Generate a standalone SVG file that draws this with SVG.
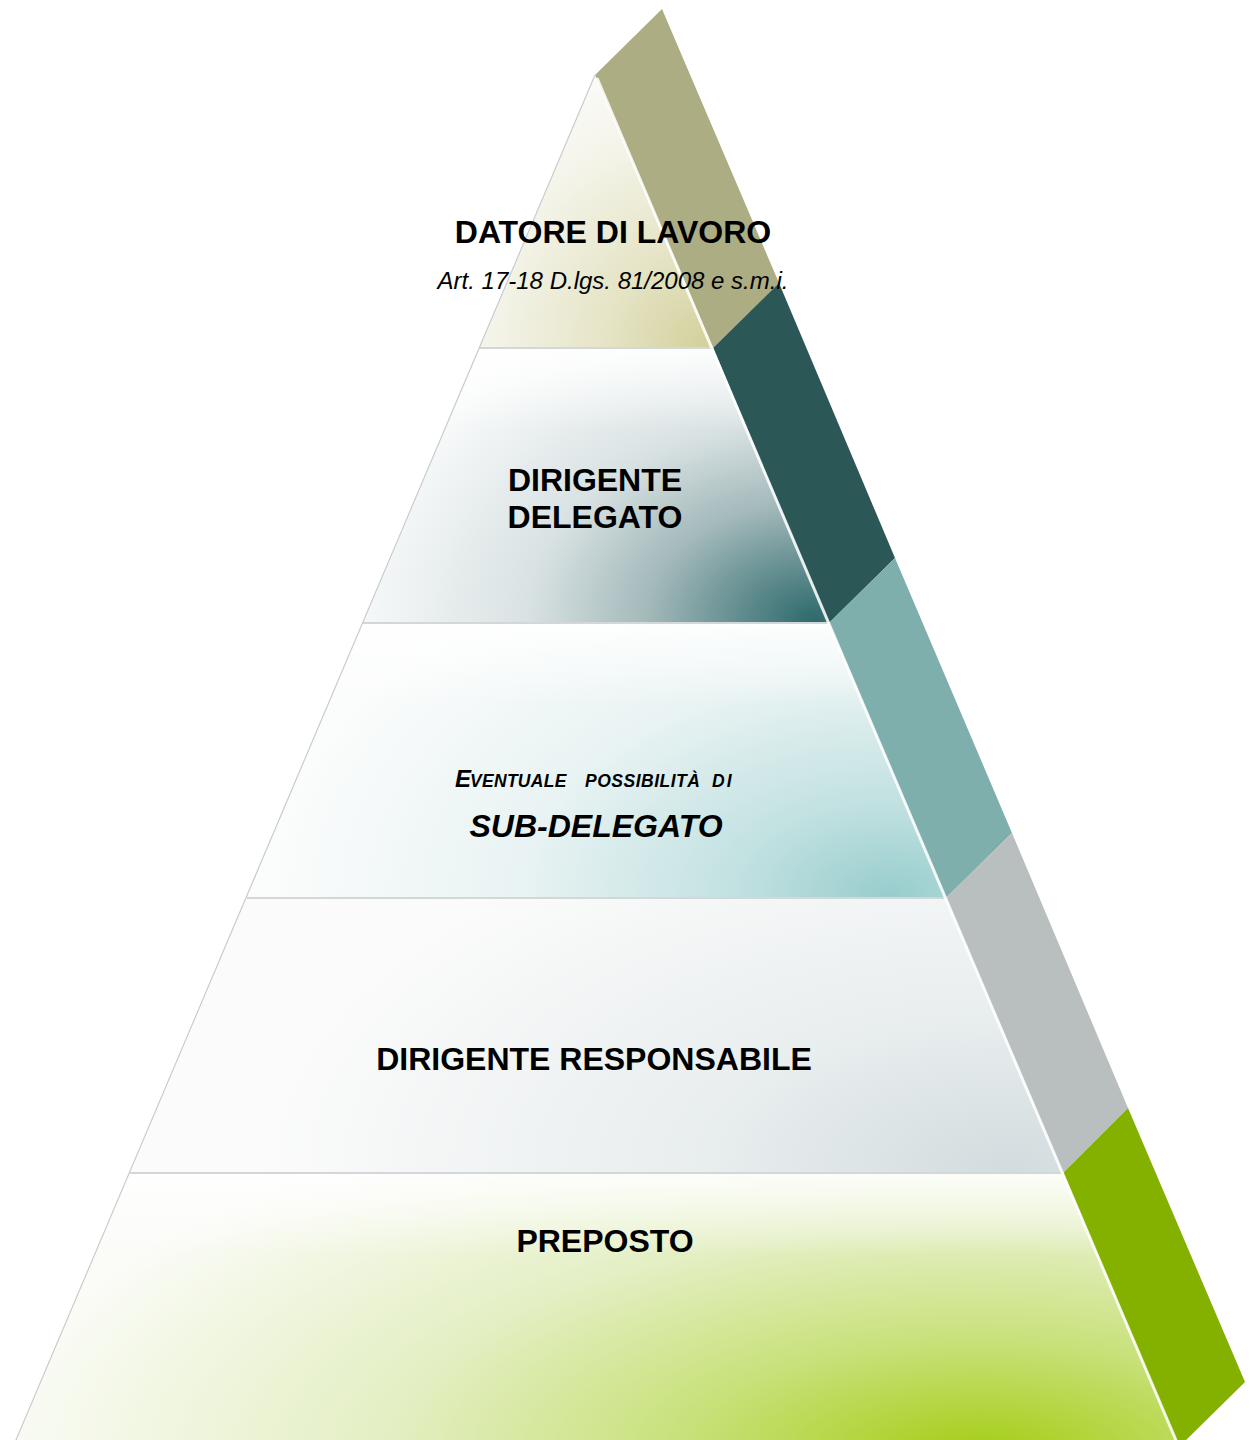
<svg xmlns="http://www.w3.org/2000/svg" width="1250" height="1440" viewBox="0 0 1250 1440">
  <defs>
    <radialGradient id="g1" gradientUnits="userSpaceOnUse" cx="705" cy="345" r="300">
      <stop offset="0" stop-color="#d3d19c"/>
      <stop offset="0.35" stop-color="#e6e5c8"/>
      <stop offset="0.75" stop-color="#f5f5ec"/>
      <stop offset="1" stop-color="#fcfcfa"/>
    </radialGradient>
    <radialGradient id="g2" gradientUnits="userSpaceOnUse" cx="815" cy="620" r="480" gradientTransform="translate(815 620) scale(1 0.7) translate(-815 -620)">
      <stop offset="0" stop-color="#2e6a6c"/>
      <stop offset="0.15" stop-color="#5f8b8d"/>
      <stop offset="0.35" stop-color="#a3b9ba"/>
      <stop offset="0.6" stop-color="#d9e2e3"/>
      <stop offset="1" stop-color="#fbfcfc"/>
    </radialGradient>
    <radialGradient id="g3" gradientUnits="userSpaceOnUse" cx="890" cy="895" r="620" gradientTransform="translate(890 895) scale(1 0.6) translate(-890 -895)">
      <stop offset="0" stop-color="#98cdcd"/>
      <stop offset="0.25" stop-color="#c2e1e1"/>
      <stop offset="0.6" stop-color="#e9f3f3"/>
      <stop offset="1" stop-color="#fbfcfc"/>
    </radialGradient>
    <radialGradient id="g4" gradientUnits="userSpaceOnUse" cx="1010" cy="1170" r="750" gradientTransform="translate(1010 1170) scale(1 0.5) translate(-1010 -1170)">
      <stop offset="0" stop-color="#d2dcde"/>
      <stop offset="0.4" stop-color="#e8edee"/>
      <stop offset="1" stop-color="#fbfbfb"/>
    </radialGradient>
    <radialGradient id="g5" gradientUnits="userSpaceOnUse" cx="980" cy="1455" r="1000" gradientTransform="translate(980 1455) scale(1 0.38) translate(-980 -1455)">
      <stop offset="0" stop-color="#a4cd14"/>
      <stop offset="0.3" stop-color="#c8e17a"/>
      <stop offset="0.6" stop-color="#e4efc4"/>
      <stop offset="1" stop-color="#fbfcf8"/>
    </radialGradient>
    <linearGradient id="topfade" x1="0" y1="0" x2="0" y2="1">
      <stop offset="0" stop-color="#ffffff" stop-opacity="0.85"/>
      <stop offset="0.3" stop-color="#ffffff" stop-opacity="0"/>
    </linearGradient>
  </defs>
  <style>
    .sep { stroke: #d3d7d8; stroke-width: 2; fill: none; }
    .edgeL { stroke: #c9cccc; stroke-width: 1.2; fill: none; }
    .hl { stroke: #ffffff; stroke-width: 3; stroke-opacity: 0.85; fill: none; }
    .t { font-family: "Liberation Sans", Arial, sans-serif; fill: #000000; text-anchor: middle; }
    .b { font-weight: bold; font-size: 32px; }
    .sc { font-family: "Liberation Sans", Arial, sans-serif; font-weight: bold; font-style: italic; fill: #000000; }
  </style>
  <rect width="1250" height="1440" fill="#ffffff"/>

  <g id="side-face">
    <polygon points="595,75 662,9 779,283 713,348" fill="#adad83"/>
    <polygon points="713,348 779,283 895,558 829,623" fill="#2b5757"/>
    <polygon points="829,623 895,558 1012,833 946,898" fill="#7fafad"/>
    <polygon points="946,898 1012,833 1128,1108 1063,1173" fill="#b8bfbe"/>
    <polygon points="1063,1173 1128,1108 1245,1382 1179,1447" fill="#84b000"/>
  </g>

  <g id="level-1-datore">
    <polygon points="595,75 713,348 480,348" fill="url(#g1)"/>
  </g>
  <g id="level-2-dirigente-delegato">
    <polygon points="480,348 713,348 829,623 363,623" fill="url(#g2)"/>
    <polygon points="480,348 713,348 829,623 363,623" fill="url(#topfade)"/>
  </g>
  <g id="level-3-sub-delegato">
    <polygon points="363,623 829,623 946,898 247,898" fill="url(#g3)"/>
    <polygon points="363,623 829,623 946,898 247,898" fill="url(#topfade)"/>
  </g>
  <g id="level-4-dirigente-responsabile">
    <polygon points="247,898 946,898 1063,1173 130,1173" fill="url(#g4)"/>
  </g>
  <g id="level-5-preposto">
    <polygon points="130,1173 1063,1173 1179,1447 13,1447" fill="url(#g5)"/>
    <polygon points="130,1173 1063,1173 1179,1447 13,1447" fill="url(#topfade)"/>
  </g>

  <g id="edges">
    <line class="sep" x1="480" y1="348" x2="713" y2="348"/>
    <line class="sep" x1="363" y1="623" x2="829" y2="623"/>
    <line class="sep" x1="247" y1="898" x2="946" y2="898"/>
    <line class="sep" x1="130" y1="1173" x2="1063" y2="1173"/>
    <line class="edgeL" x1="595" y1="75" x2="13" y2="1447"/>
    <line class="hl" x1="597" y1="78" x2="1178" y2="1445"/>
  </g>

  <g id="labels">
    <text class="t b" x="613" y="243" font-size="32.3">DATORE DI LAVORO</text>
    <text class="t" x="613" y="289" font-size="24" font-style="italic">Art. 17-18 D.lgs. 81/2008 e s.m.i.</text>
    <text class="t b" x="595" y="491">DIRIGENTE</text>
    <text class="t b" x="595" y="528">DELEGATO</text>
    <text class="sc" x="455" y="787"><tspan font-size="24">E</tspan><tspan x="470" font-size="17.5" letter-spacing="0.3">VENTUALE</tspan><tspan x="585" font-size="17.5" letter-spacing="0.5">POSSIBILITÀ</tspan><tspan x="712" font-size="17.5" letter-spacing="2">DI</tspan></text>
    <text class="t" x="596" y="837" font-size="32" font-weight="bold" font-style="italic">SUB-DELEGATO</text>
    <text class="t b" x="594" y="1070">DIRIGENTE RESPONSABILE</text>
    <text class="t b" x="605" y="1252">PREPOSTO</text>
  </g>
</svg>
